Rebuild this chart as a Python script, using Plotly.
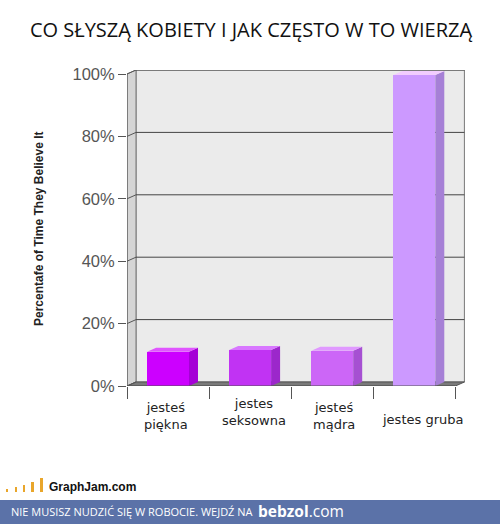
import plotly.graph_objects as go

# ---------------- data ----------------
categories = ["jesteś<br>piękna", "jestes<br>seksowna", "jesteś<br>mądra", "jestes gruba"]
values = [11.0, 11.5, 11.3, 99.7]
front_colors = ["#CC00FF", "#C133F3", "#CC66F7", "#CC99FF"]
side_colors = ["#A500D6", "#9C27CB", "#A650D2", "#A680D6"]
top_colors = ["#E055FF", "#D877FF", "#E099FF", "#F2CCFF"]
y_ticks = [0, 20, 40, 60, 80, 100]
y_ticktext = ["0%", "20%", "40%", "60%", "80%", "100%"]

# ---------------- geometry helpers ----------------
W, H = 500, 524
L, R, T, B = 127, 33, 70, 138
plot_w = W - L - R
plot_h = H - T - B
X_MIN, X_MAX = -0.5, -0.5 + plot_w / 82.1
Y_MAX = 100 * (386 - 70) / (386 - 74)
DX = 9 / 82.1          # depth offset in x units
DY = 4 / 3.12          # depth offset in y units
BW = 0.51              # bar width
label_xshift = [-2, 4, 2, 8]       # pixel nudges of category labels
label_ypix = [416, 412, 416, 419]  # pixel centre of category labels


def py(p):
    return (H - B - p) / plot_h


def px(p):
    return (p - L) / plot_w


fig = go.Figure()

# front faces of bars
xs = list(range(len(categories)))
fig.add_trace(go.Bar(
    x=xs, y=values, width=BW,
    marker=dict(color=front_colors, line=dict(width=0)),
    showlegend=False, hoverinfo="skip",
))

# side and top faces (pseudo 3D) computed from values
for i, v in enumerate(values):
    r = i + BW / 2
    l = i - BW / 2
    fig.add_trace(go.Scatter(
        x=[r, r + DX, r + DX, r, r], y=[0, DY, v + DY, v, 0],
        fill="toself", fillcolor=side_colors[i], mode="lines",
        line=dict(width=0, color=side_colors[i]), showlegend=False, hoverinfo="skip"))
    fig.add_trace(go.Scatter(
        x=[l, l + DX, r + DX, r, l], y=[v, v + DY, v + DY, v, v],
        fill="toself", fillcolor=top_colors[i], mode="lines",
        line=dict(width=0, color=top_colors[i]), showlegend=False, hoverinfo="skip"))

shapes = []
# back wall
shapes.append(dict(type="rect", xref="x", yref="y", layer="below",
                   x0=X_MIN + DX, x1=3.5 + DX, y0=DY, y1=100 + DY,
                   fillcolor="#EBEBEB", line=dict(color="#777777", width=1)))
# left side wall
shapes.append(dict(type="path", xref="x", yref="y", layer="below",
                   path=f"M {X_MIN},0 L {X_MIN+DX},{DY} L {X_MIN+DX},{100+DY} L {X_MIN},100 Z",
                   fillcolor="#D5D5D5", line=dict(color="#777777", width=1)))
# floor
shapes.append(dict(type="path", xref="x", yref="y", layer="below",
                   path=f"M {X_MIN},0 L {X_MIN+DX},{DY} L {3.5+DX},{DY} L 3.5,0 Z",
                   fillcolor="#7A7A7A", line=dict(color="#555555", width=1)))
# gridlines on back wall + diagonal tick connectors on side wall
for v in y_ticks[1:]:
    shapes.append(dict(type="line", xref="x", yref="y", layer="below",
                       x0=X_MIN + DX, x1=3.5 + DX, y0=v + DY, y1=v + DY,
                       line=dict(color="#444444", width=1)))
for v in y_ticks:
    shapes.append(dict(type="line", xref="x", yref="y", layer="below",
                       x0=X_MIN, x1=X_MIN + DX, y0=v, y1=v + DY,
                       line=dict(color="#555555", width=1)))

# footer banner
shapes.append(dict(type="rect", xref="paper", yref="paper", layer="above",
                   x0=px(0), x1=px(W), y0=py(H), y1=py(500),
                   fillcolor="#5B72A8", line=dict(width=0)))
# GraphJam logo bars
logo = [(6, 8, 489), (15, 17, 487), (23, 25, 485), (31, 34, 482), (40, 43, 478)]
for x0, x1, top in logo:
    shapes.append(dict(type="rect", xref="paper", yref="paper", layer="above",
                       x0=px(x0), x1=px(x1), y0=py(492), y1=py(top),
                       fillcolor="#E9A62B", line=dict(width=0)))

annotations = []
for i, c in enumerate(categories):
    annotations.append(dict(x=i, y=py(label_ypix[i]), xref="x", yref="paper", text=c,
                            xshift=label_xshift[i],
                            showarrow=False, xanchor="center", yanchor="middle",
                            font=dict(family="DejaVu Sans", size=13, color="#222222")))
annotations.append(dict(x=px(39), y=py(228), xref="paper", yref="paper",
                        text="<b>Percentafe of Time They Believe It</b>", textangle=-90,
                        showarrow=False, xanchor="center", yanchor="middle",
                        font=dict(family="Liberation Sans", size=12, color="#222222")))
annotations.append(dict(x=px(47), y=py(487), xref="paper", yref="paper",
                        text="<b>GraphJam.com</b>", showarrow=False,
                        xanchor="left", yanchor="middle",
                        font=dict(family="Liberation Sans", size=12, color="#111111")))
annotations.append(dict(x=px(9), y=py(512), xref="paper", yref="paper",
                        text="NIE MUSISZ NUDZIĆ SIĘ W ROBOCIE. WEJDŹ NA", showarrow=False,
                        xanchor="left", yanchor="middle",
                        font=dict(family="Open Sans", size=11, color="#FFFFFF")))
annotations.append(dict(x=px(256), y=py(511), xref="paper", yref="paper",
                        text="<b>bebzol</b>.com", showarrow=False,
                        xanchor="left", yanchor="middle",
                        font=dict(family="Open Sans", size=15.5, color="#FFFFFF")))

fig.update_layout(
    width=W, height=H,
    margin=dict(l=L, r=R, t=T, b=B, pad=0),
    paper_bgcolor="#FFFFFF", plot_bgcolor="rgba(0,0,0,0)",
    title=dict(text="CO SŁYSZĄ KOBIETY I JAK CZĘSTO W TO WIERZĄ",
               x=0.502, xanchor="center", xref="container", y=1 - 30 / H, yanchor="middle",
               font=dict(family="Open Sans", size=20, color="#111111")),
    xaxis=dict(range=[X_MIN, X_MAX], showgrid=False, zeroline=False,
               showline=False, tickmode="array", tickvals=[-0.5, 0.5, 1.5, 2.5, 3.5],
               ticks="outside", ticklen=12, tickcolor="#555555", tickwidth=1,
               showticklabels=False, fixedrange=True),
    yaxis=dict(range=[0, Y_MAX], showgrid=False, zeroline=False,
               showline=False, tickmode="array", tickvals=y_ticks, ticktext=y_ticktext,
               ticks="outside", ticklen=8, tickcolor="#555555", tickwidth=1,
               tickfont=dict(family="Liberation Sans", size=16.5, color="#555555"),
               fixedrange=True),
    shapes=shapes + [
        dict(type="line", xref="x", yref="y", layer="above", x0=X_MIN, x1=X_MIN,
             y0=0, y1=100, line=dict(color="#555555", width=1)),
        dict(type="line", xref="x", yref="y", layer="above", x0=X_MIN, x1=3.5,
             y0=0, y1=0, line=dict(color="#555555", width=1)),
    ],
    annotations=annotations,
    bargap=0,
)

fig.write_html("out.html", config={"displayModeBar": False},
               post_script="document.body.style.margin='0';document.body.style.overflow='hidden';")
